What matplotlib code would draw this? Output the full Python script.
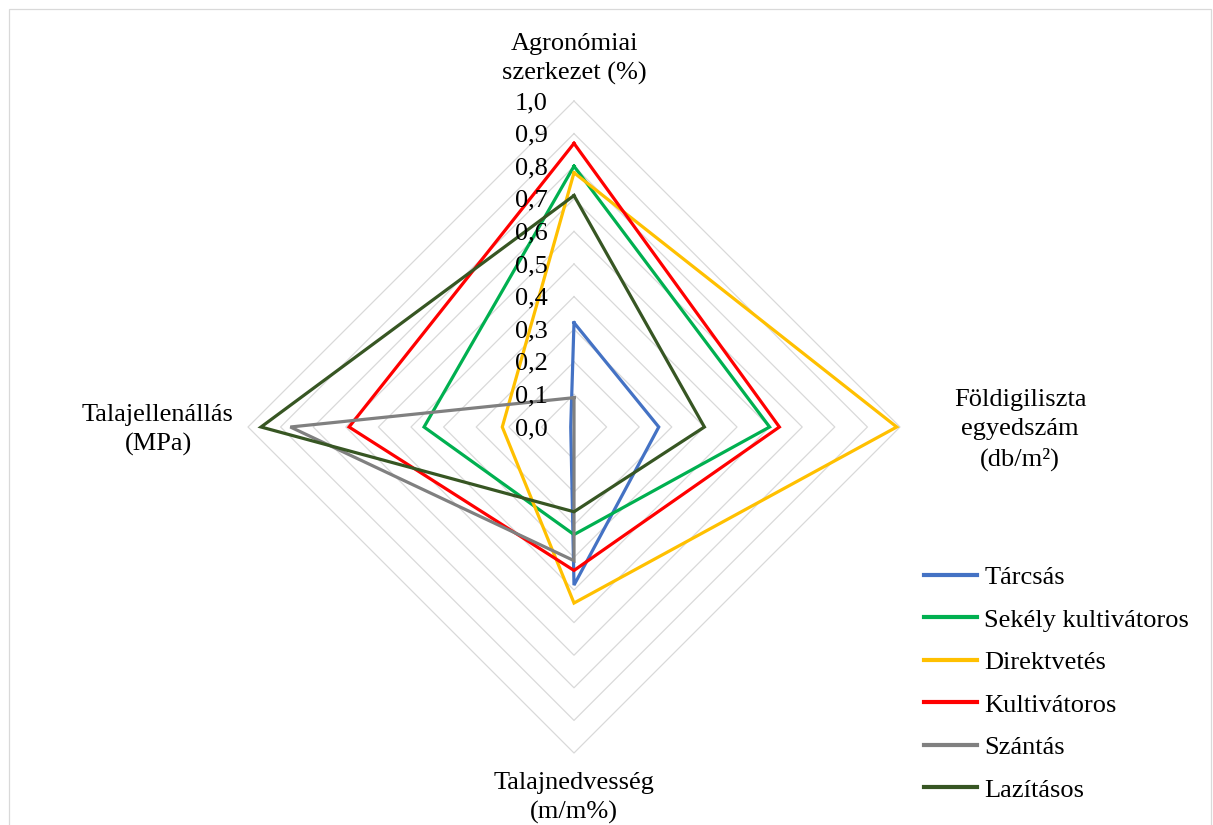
import numpy as np
import matplotlib.pyplot as plt
from matplotlib.patches import Rectangle

plt.rcParams['font.family'] = ['Liberation Serif', 'DejaVu Serif']

# axes order: top, right, bottom, left
categories = ['Agronómiai\nszerkezet (%)', 'Földigiliszta\negyedszám\n(db/m²)',
              'Talajnedvesség\n(m/m%)', 'Talajellenállás\n(MPa)']
series_names = ['Tárcsás', 'Sekély kultivátoros', 'Direktvetés',
                'Kultivátoros', 'Szántás', 'Lazításos']
tarcsas = [0.32, 0.26, 0.485, 0.01]
sekely = [0.80, 0.60, 0.33, 0.46]
direkt = [0.78, 0.99, 0.54, 0.22]
kultiv = [0.87, 0.63, 0.44, 0.69]
szantas = [0.09, 0.0, 0.41, 0.87]
lazitas = [0.71, 0.40, 0.26, 0.96]
ticks = [0.0, 0.1, 0.2, 0.3, 0.4, 0.5, 0.6, 0.7, 0.8, 0.9, 1.0]

all_values = [tarcsas, sekely, direkt, kultiv, szantas, lazitas]
colors = ['#4472C4', '#00B050', '#FFC000', '#FF0000', '#808080', '#375623']

W, H = 1213, 825
cx, cy, R = 574, 427, 326
fs = 19

fig = plt.figure(figsize=(W / 100, H / 100), dpi=100)
ax = fig.add_axes([0, 0, 1, 1])
ax.set_xlim(-cx / R, (W - cx) / R)
ax.set_ylim(-(H - cy) / R, cy / R)
ax.axis('off')

dirs = np.array([[0, 1], [1, 0], [0, -1], [-1, 0]])

def to_xy(vals):
    pts = dirs * np.array(vals)[:, None]
    pts = np.vstack([pts, pts[:1]])
    return pts[:, 0], pts[:, 1]

# grid diamonds
for t in ticks[1:]:
    x, y = to_xy([t] * 4)
    ax.plot(x, y, color='#d9d9d9', lw=0.9, zorder=1)

# series
lines = []
for i, vals in enumerate(all_values):
    x, y = to_xy(vals)
    ln, = ax.plot(x, y, color=colors[i], lw=2.3, label=series_names[i],
                  solid_joinstyle='miter', zorder=3 + i)
    lines.append(ln)

# tick labels
for t in ticks:
    ax.text(-26 / R, t - 2 / R, ('%.1f' % t).replace('.', ','), ha='right',
            va='center', fontsize=fs, zorder=10)

# category labels
kw = dict(ha='center', va='center', fontsize=fs, linespacing=1.42)
ax.text(0, (cy - 59) / R, categories[0], **kw)
ax.text((1020 - cx) / R, (cy - 430) / R, categories[1], **kw)
ax.text(0, (cy - 798) / R, categories[2], **kw)
ax.text((158 - cx) / R, (cy - 430) / R, categories[3], **kw)

leg = fig.legend(handles=lines, loc='upper left',
                 bbox_to_anchor=(900 / W, 1 - 542 / H), frameon=False,
                 fontsize=fs, handlelength=2.0, handletextpad=0.3,
                 labelspacing=0.72)
for h in leg.get_lines():
    h.set_linewidth(3)

fig.patches.append(Rectangle((9 / W, -0.01), (1211 - 9) / W, 1 - 9 / H + 0.01,
                             transform=fig.transFigure, fill=False,
                             edgecolor='#d9d9d9', lw=0.9))

fig.savefig('out.png', dpi=100)
